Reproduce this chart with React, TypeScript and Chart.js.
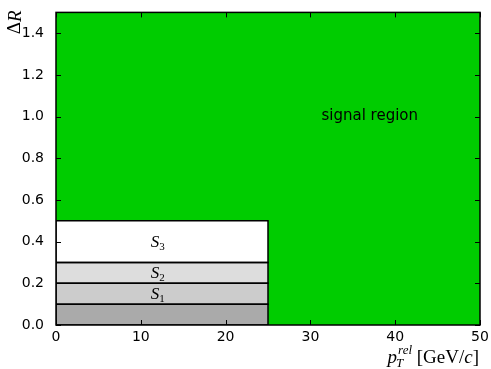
import React, { useEffect, useRef } from "react";
import { Chart, registerables } from "chart.js";

Chart.register(...registerables);

// Axis ranges and ticks
const xRange = [0, 50];
const yRange = [0, 1.5];
const xTicks = [0, 10, 20, 30, 40, 50];
const yTicks = [0.0, 0.2, 0.4, 0.6, 0.8, 1.0, 1.2, 1.4];

// Regions (rectangles in data coordinates)
const regionNames = ["signal region", "base", "S1", "S2", "S3"];
const regionX0 = [0, 0, 0, 0, 0];
const regionX1 = [50, 25, 25, 25, 25];
const regionY0 = [0, 0, 0.1, 0.2, 0.3];
const regionY1 = [1.5, 0.1, 0.2, 0.3, 0.5];

// Text labels in data coordinates
const labelMain = ["signal region", "S", "S", "S"];
const labelSub = ["", "1", "2", "3"];
const labelX = [37, 12, 12, 12];
const labelY = [1.0, 0.15, 0.25, 0.4];

const regionColors = ["#00cc00", "#aaaaaa", "#cccccc", "#dddddd", "#ffffff"];

const SANS = "'DejaVu Sans', sans-serif";
const SERIF = "'Liberation Serif', 'DejaVu Serif', serif";

const framePlugin = {
  id: "frame",
  afterDraw(chart: any) {
    const ctx = chart.ctx as CanvasRenderingContext2D;
    const { left, right, top, bottom } = chart.chartArea;
    const xs = chart.scales.x;
    const ys = chart.scales.y;
    ctx.save();
    // labels
    ctx.fillStyle = "#000";
    for (let i = 0; i < labelMain.length; i++) {
      const px = xs.getPixelForValue(labelX[i]);
      const py = ys.getPixelForValue(labelY[i]);
      if (!labelSub[i]) {
        ctx.font = `15px ${SANS}`;
        ctx.textAlign = "center";
        ctx.textBaseline = "middle";
        ctx.fillText(labelMain[i], px, py);
      } else {
        ctx.font = `italic 17px ${SERIF}`;
        const w1 = ctx.measureText(labelMain[i]).width;
        ctx.font = `11px ${SERIF}`;
        const w2 = ctx.measureText(labelSub[i]).width;
        const x0 = px - (w1 + w2) / 2;
        ctx.textAlign = "left";
        ctx.textBaseline = "alphabetic";
        ctx.font = `italic 17px ${SERIF}`;
        ctx.fillText(labelMain[i], x0, py + 5);
        ctx.font = `11px ${SERIF}`;
        ctx.fillText(labelSub[i], x0 + w1, py + 8);
      }
    }
    // frame
    ctx.strokeStyle = "#000";
    ctx.lineWidth = 1.5;
    ctx.strokeRect(left, top, right - left, bottom - top);
    // inward ticks
    ctx.lineWidth = 1;
    const tl = 5;
    ctx.beginPath();
    xTicks.forEach((v) => {
      const p = Math.round(xs.getPixelForValue(v)) + 0.5;
      ctx.moveTo(p, bottom);
      ctx.lineTo(p, bottom - tl);
      ctx.moveTo(p, top);
      ctx.lineTo(p, top + tl);
    });
    yTicks.forEach((v) => {
      const p = Math.round(ys.getPixelForValue(v)) + 0.5;
      ctx.moveTo(left, p);
      ctx.lineTo(left + tl, p);
      ctx.moveTo(right, p);
      ctx.lineTo(right - tl, p);
    });
    ctx.stroke();

    // y axis title: ΔR, rotated, aligned at top
    ctx.save();
    ctx.translate(15.5, top);
    ctx.rotate(-Math.PI / 2);
    ctx.textBaseline = "middle";
    ctx.textAlign = "left";
    ctx.font = `italic 19px ${SERIF}`;
    const wR = ctx.measureText("R").width;
    ctx.font = `19px ${SERIF}`;
    const wD = ctx.measureText("Δ").width;
    ctx.fillText("Δ", -(wD + wR) + 2, 0);
    ctx.font = `italic 19px ${SERIF}`;
    ctx.fillText("R", -wR + 2, 0);
    ctx.restore();

    // x axis title: p_T^rel [GeV/c], right aligned
    const base = 363;
    ctx.textAlign = "left";
    ctx.textBaseline = "alphabetic";
    const fBig = 19;
    const fSmall = 13;
    ctx.font = `italic ${fBig}px ${SERIF}`;
    const wp = ctx.measureText("p").width;
    ctx.font = `italic ${fSmall}px ${SERIF}`;
    const wT = ctx.measureText("T").width;
    const wrel = ctx.measureText("rel").width;
    ctx.font = `${fBig}px ${SERIF}`;
    const wA = ctx.measureText(" [GeV/").width;
    ctx.font = `italic ${fBig}px ${SERIF}`;
    const wc = ctx.measureText("c").width;
    ctx.font = `${fBig}px ${SERIF}`;
    const wB = ctx.measureText("]").width;
    const total = wp + Math.max(wT, wrel) + 1 + wA + wc + wB;
    let x = right - 1 - total;
    ctx.font = `italic ${fBig}px ${SERIF}`;
    ctx.fillText("p", x, base);
    x += wp;
    ctx.font = `italic ${fSmall}px ${SERIF}`;
    ctx.fillText("T", x - 1, base + 4);
    ctx.fillText("rel", x + 1, base - 9);
    x += Math.max(wT, wrel) + 1;
    ctx.font = `${fBig}px ${SERIF}`;
    ctx.fillText(" [GeV/", x, base);
    x += wA;
    ctx.font = `italic ${fBig}px ${SERIF}`;
    ctx.fillText("c", x, base);
    x += wc;
    ctx.font = `${fBig}px ${SERIF}`;
    ctx.fillText("]", x, base);
    ctx.restore();
  },
};

export default function App() {
  const ref = useRef<HTMLCanvasElement | null>(null);
  useEffect(() => {
    if (!ref.current) return;
    const datasets: any[] = [];
    regionNames.forEach((name, i) => {
      // filled area: top edge filled down to the region's lower bound
      datasets.push({
        label: name + " fill",
        data: [
          { x: regionX0[i], y: regionY1[i] },
          { x: regionX1[i], y: regionY1[i] },
        ],
        fill: { value: regionY0[i] },
        backgroundColor: regionColors[i],
        borderColor: "rgba(0,0,0,0)",
        borderWidth: 0,
        pointRadius: 0,
        tension: 0,
        order: i === 0 ? 20 : 10 - i,
      });
      if (i > 0) {
        // outline of the rectangle
        datasets.push({
          label: name + " edge",
          data: [
            { x: regionX0[i], y: regionY0[i] },
            { x: regionX0[i], y: regionY1[i] },
            { x: regionX1[i], y: regionY1[i] },
            { x: regionX1[i], y: regionY0[i] },
            { x: regionX0[i], y: regionY0[i] },
          ],
          fill: false,
          borderColor: "#000",
          borderWidth: 1.5,
          pointRadius: 0,
          tension: 0,
          order: 1,
        });
      }
    });
    const tickFont = { family: SANS, size: 14 };
    const chart = new Chart(ref.current, {
      type: "line",
      data: { datasets },
      options: {
        animation: false,
        responsive: true,
        maintainAspectRatio: false,
        layout: { padding: { left: 0, top: 8, right: 11, bottom: 0 } },
        plugins: {
          legend: { display: false },
          tooltip: { enabled: false },
        },
        events: [],
        scales: {
          x: {
            type: "linear",
            min: xRange[0],
            max: xRange[1],
            afterBuildTicks: (s: any) => {
              s.ticks = xTicks.map((v) => ({ value: v }));
            },
            afterFit: (s: any) => {
              s.height = 44;
            },
            grid: { display: false },
            border: { display: false },
            ticks: {
              font: tickFont,
              color: "#000",
              padding: -4,
              maxRotation: 0,
              autoSkip: false,
              callback: (v: any) => String(v),
            },
          },
          y: {
            type: "linear",
            min: yRange[0],
            max: yRange[1],
            afterBuildTicks: (s: any) => {
              s.ticks = yTicks.map((v) => ({ value: v }));
            },
            afterFit: (s: any) => {
              s.width = 56;
            },
            grid: { display: false },
            border: { display: false },
            ticks: {
              font: tickFont,
              color: "#000",
              padding: 4,
              autoSkip: false,
              callback: (v: any) => Number(v).toFixed(1),
            },
          },
        },
      },
      plugins: [framePlugin],
    } as any);
    return () => chart.destroy();
  }, []);
  return (
    <div style={{ position: "fixed", left: 0, top: 0, width: 491, height: 369 }}>
      <canvas ref={ref} />
    </div>
  );
}
